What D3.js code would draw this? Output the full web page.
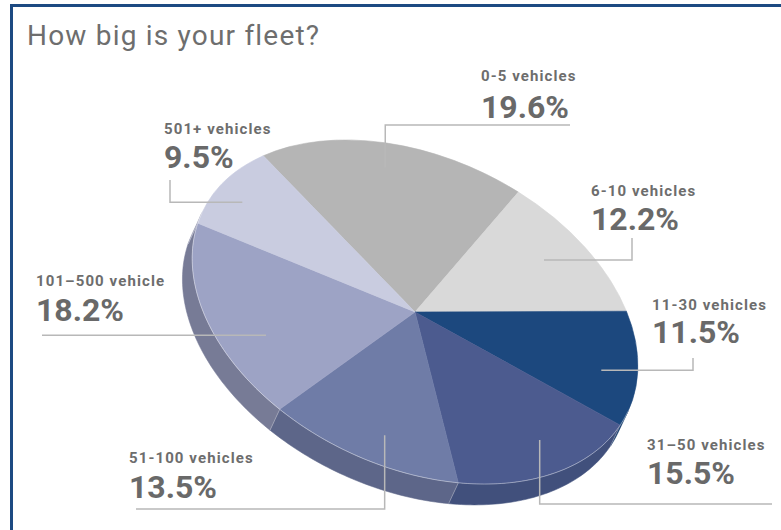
<!DOCTYPE html>
<html>
<head>
<meta charset="utf-8">
<script src="https://cdn.jsdelivr.net/npm/d3@7/dist/d3.min.js"></script>
<style>
  body { margin: 0; background: #fff; }
  svg { display: block; font-family: Roboto, "DejaVu Sans", sans-serif; }
</style>
</head>
<body>
<div id="chart"></div>
<script>
// data
var title = "How big is your fleet?";
var categories = ["0-5 vehicles", "6-10 vehicles", "11-30 vehicles", "31–50 vehicles",
                  "51-100 vehicles", "101–500 vehicle", "501+ vehicles"];
var values = [19.6, 12.2, 11.5, 15.5, 13.5, 18.2, 9.5];
var valueLabels = ["19.6%", "12.2%", "11.5%", "15.5%", "13.5%", "18.2%", "9.5%"];

// styles
var topColors  = ["#b5b5b5", "#d9d9d9", "#1c487e", "#4c5b8f", "#6f7ca7", "#9da3c5", "#c9cce0"];
var sideColors = ["#8e8e8e", "#a9a9a9", "#163c6a", "#41507c", "#5d6689", "#777b96", "#9a9db3"];

var width = 781, height = 530;

// tilted pie: ellipse rotated on the page, with a little depth
var cx = 415, cy = 312, rx = 235, ry = 155, depth = 23, tilt = 25;
var startAngle = 300 * Math.PI / 180;

// label layout (per slice): text position, anchor inside slice, leader shape
var layout = [
  {x: 481, ny: 81,  py: 118, at: [0.48, 0.85], leader: "vh", p: 125, q: 570},
  {x: 591, ny: 196, py: 230, at: [0.48, 0.77], leader: "hv", p: 632, q: 238},
  {x: 652, ny: 310, py: 343, at: [0.58, 0.84], leader: "hv", p: 693, q: 358},
  {x: 647, ny: 450, py: 484, at: [0.43, 0.82], leader: "vh", p: 504, q: 772},
  {x: 129, ny: 463, py: 498, at: [0.43, 0.81], leader: "vh", p: 509, q: 136},
  {x: 36,  ny: 286, py: 321, at: [0.37, 0.76], leader: "h",  p: 42},
  {x: 164, ny: 134, py: 168, at: [0.45, 0.88], leader: "hv", p: 170, q: 180}
];

var svg = d3.select("#chart").append("svg")
    .attr("width", width)
    .attr("height", height);

// frame (only the top and left edges fall inside the picture)
svg.append("rect")
    .attr("x", 11.5).attr("y", 5.5)
    .attr("width", width + 20).attr("height", height + 20)
    .attr("fill", "none")
    .attr("stroke", "#1d4a82")
    .attr("stroke-width", 3);

svg.append("text")
    .attr("x", 27).attr("y", 45)
    .attr("font-size", 28)
    .attr("letter-spacing", 1.2)
    .attr("fill", "#6e6e6e")
    .text(title);

var pie = d3.pie()
    .sort(null)
    .value(function(d) { return d; })
    .startAngle(startAngle)
    .endAngle(startAngle + 2 * Math.PI);

var arcs = pie(values);

var rot = tilt * Math.PI / 180;
function localPt(a, f, dy) {
  return [rx * f * Math.sin(a), -ry * f * Math.cos(a) + (dy || 0)];
}
function toScreen(p) {
  return [cx + p[0] * Math.cos(rot) - p[1] * Math.sin(rot),
          cy + p[0] * Math.sin(rot) + p[1] * Math.cos(rot)];
}

var g = svg.append("g")
    .attr("transform", "translate(" + cx + "," + cy + ") rotate(" + tilt + ")");

// visible (front) part of the rim
var frontLo = 2.5 * Math.PI;
var frontHi = 3.5 * Math.PI;

var line = d3.line();

function rimPts(lo, hi, dy) {
  var pts = [], n = Math.max(2, Math.ceil((hi - lo) / 0.02));
  for (var i = 0; i <= n; i++) pts.push(localPt(lo + (hi - lo) * i / n, 1, dy));
  return pts;
}

// sides
arcs.forEach(function(d, i) {
  var lo = Math.max(d.startAngle, frontLo), hi = Math.min(d.endAngle, frontHi);
  if (lo >= hi) return;
  var pts = rimPts(lo, hi, 0).concat(rimPts(lo, hi, depth).reverse());
  g.append("path")
      .attr("d", line(pts) + "Z")
      .attr("fill", sideColors[i])
      .attr("stroke", sideColors[i])
      .attr("stroke-width", 0.5);
});

// facet lines on the side at slice edges
arcs.forEach(function(d) {
  var a = d.startAngle;
  if (a <= frontLo || a >= frontHi) return;
  g.append("path")
      .attr("d", line([localPt(a, 1, 0), localPt(a, 1, depth)]))
      .attr("stroke", "rgba(255,255,255,0.3)")
      .attr("stroke-width", 0.8);
});

// top faces
var arc = d3.arc().innerRadius(0).outerRadius(1);
var faces = g.append("g").attr("transform", "scale(" + rx + "," + ry + ")");
faces.selectAll("path")
  .data(arcs)
  .enter().append("path")
    .attr("d", arc)
    .attr("fill", function(d, i) { return topColors[i]; })
    .attr("stroke", function(d, i) { return topColors[i]; })
    .attr("stroke-width", 0.6)
    .attr("vector-effect", "non-scaling-stroke");

// light edge between top face and rim
g.append("path")
    .attr("d", line(rimPts(frontLo, frontHi, 0)))
    .attr("fill", "none")
    .attr("stroke", "rgba(255,255,255,0.45)")
    .attr("stroke-width", 0.8);

// leaders
arcs.forEach(function(d, i) {
  var L = layout[i];
  var a = d.startAngle + L.at[0] * (d.endAngle - d.startAngle);
  var s = toScreen(localPt(a, L.at[1], 0));
  var pts;
  if (L.leader === "vh") pts = [s, [s[0], L.p], [L.q, L.p]];
  else if (L.leader === "hv") pts = [s, [L.p, s[1]], [L.p, L.q]];
  else pts = [s, [L.p, s[1]]];
  svg.append("path")
      .attr("d", line(pts))
      .attr("fill", "none")
      .attr("stroke", "#b8b8b8")
      .attr("stroke-width", 1.5);
});

// labels
var labels = svg.selectAll(".label")
  .data(arcs)
  .enter().append("g")
    .attr("class", "label");

labels.append("text")
    .attr("x", function(d, i) { return layout[i].x; })
    .attr("y", function(d, i) { return layout[i].ny; })
    .attr("font-size", 15)
    .attr("font-weight", 700)
    .attr("letter-spacing", 1.1)
    .attr("fill", "#6d6d6d")
    .text(function(d, i) { return categories[i]; });

labels.append("text")
    .attr("x", function(d, i) { return layout[i].x; })
    .attr("y", function(d, i) { return layout[i].py; })
    .attr("font-size", 32)
    .attr("font-weight", 700)
    .attr("fill", "#696969")
    .text(function(d, i) { return valueLabels[i]; });
</script>
</body>
</html>
